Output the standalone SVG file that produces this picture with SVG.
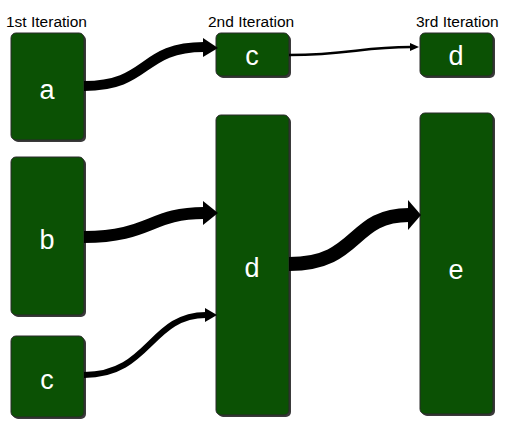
<svg xmlns="http://www.w3.org/2000/svg" width="506" height="429" viewBox="0 0 506 429">
<style>
.box{fill:#0b5104;stroke:#2a2a2a;stroke-width:1}
.shadow{fill:#3a3a3a}
.lbl{font-family:"Liberation Sans",Arial,sans-serif;font-size:27px;fill:#ffffff;text-anchor:middle}
.hdr{font-family:"Liberation Sans",Arial,sans-serif;font-size:15.5px;fill:#000000}
.edge{fill:none;stroke:#000000;stroke-linecap:butt}
.head{fill:#000000}
</style>
<rect width="506" height="429" fill="#ffffff"/>
<g id="headers">
<text class="hdr" x="6" y="27">1st Iteration</text>
<text class="hdr" x="208" y="27">2nd Iteration</text>
<text class="hdr" x="416" y="27">3rd Iteration</text>
</g>
<g id="node-a">
<rect class="shadow" x="13" y="35" width="73" height="107" rx="5"/>
<rect class="box" x="11" y="33" width="73" height="107" rx="5"/>
<text class="lbl" x="47" y="99">a</text>
</g>
<g id="node-b">
<rect class="shadow" x="13" y="159" width="73" height="158" rx="5"/>
<rect class="box" x="11" y="157" width="73" height="158" rx="5"/>
<text class="lbl" x="47" y="249">b</text>
</g>
<g id="node-c1">
<rect class="shadow" x="13" y="338" width="73" height="81" rx="5"/>
<rect class="box" x="11" y="336" width="73" height="81" rx="5"/>
<text class="lbl" x="47" y="389">c</text>
</g>
<g id="node-c2">
<rect class="shadow" x="218" y="35" width="73" height="43" rx="5"/>
<rect class="box" x="216" y="33" width="73" height="43" rx="5"/>
<text class="lbl" x="252" y="65">c</text>
</g>
<g id="node-d2">
<rect class="shadow" x="218" y="117" width="73" height="300" rx="5"/>
<rect class="box" x="216" y="115" width="73" height="300" rx="5"/>
<text class="lbl" x="252" y="277">d</text>
</g>
<g id="node-d3">
<rect class="shadow" x="422" y="35" width="73" height="43" rx="5"/>
<rect class="box" x="420" y="33" width="73" height="43" rx="5"/>
<text class="lbl" x="456" y="65">d</text>
</g>
<g id="node-e">
<rect class="shadow" x="422" y="115" width="73" height="301" rx="5"/>
<rect class="box" x="420" y="113" width="73" height="301" rx="5"/>
<text class="lbl" x="456" y="279">e</text>
</g>
<g id="connectors">
<path class="edge" stroke-width="10" d="M84,86 C150,86 140,47 204,47"/>
<polygon class="head" points="203,38 218,48 203,57"/>
<path class="edge" stroke-width="2.5" d="M289,55 C350,55 360,47 411,47"/>
<polygon class="head" points="410,43 419,47 410,51"/>
<path class="edge" stroke-width="12" d="M84,237 C150,237 150,213 204,213"/>
<polygon class="head" points="203,201 218,213 203,225"/>
<path class="edge" stroke-width="6" d="M84,375 C150,375 150,315 206,315"/>
<polygon class="head" points="205,308 217,315 205,322"/>
<path class="edge" stroke-width="14" d="M289,264 C360,264 350,215 409,215"/>
<polygon class="head" points="408,200 421,215 408,230"/>
</g>
</svg>
